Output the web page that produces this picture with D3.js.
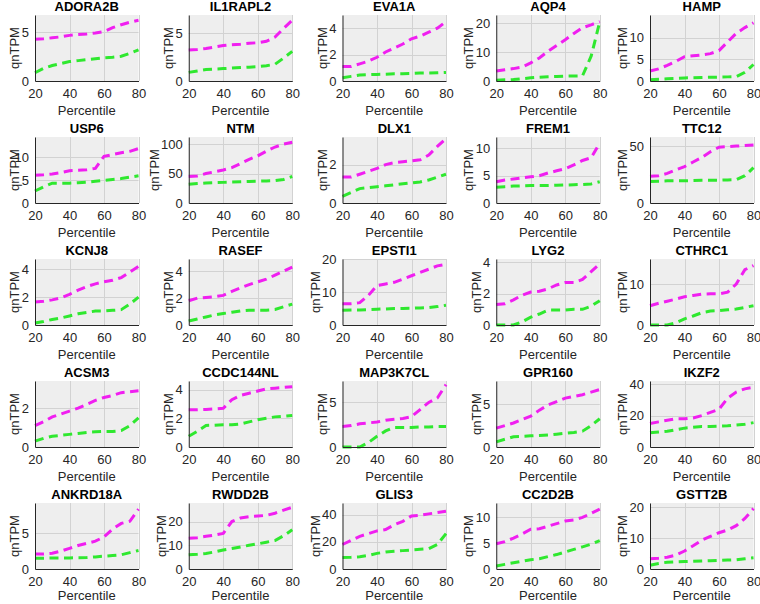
<!DOCTYPE html>
<html>
<head>
<meta charset="utf-8">
<script src="https://cdn.jsdelivr.net/npm/d3@7"></script>
<style>
  html, body { margin: 0; padding: 0; background: #ffffff; }
  svg { display: block; }
  text { font-family: "Liberation Sans", Arial, Helvetica, sans-serif; }
</style>
</head>
<body>
<svg id="chart" width="760" height="604"></svg>
<script>
const percentiles = [20, 25, 30, 35, 40, 45, 50, 55, 60, 65, 70, 75, 80];
const xTicks = [20, 40, 60, 80];

const genes = ["ADORA2B", "IL1RAPL2", "EVA1A", "AQP4", "HAMP",
  "USP6", "NTM", "DLX1", "FREM1", "TTC12",
  "KCNJ8", "RASEF", "EPSTI1", "LYG2", "CTHRC1",
  "ACSM3", "CCDC144NL", "MAP3K7CL", "GPR160", "IKZF2",
  "ANKRD18A", "RWDD2B", "GLIS3", "CC2D2B", "GSTT2B"];

const yMax = [6.8, 6.9, 5.0, 22.9, 15.2,
  14.3, 112, 3.44, 12.1, 58,
  4.73, 4.9, 20.1, 4.2, 16.1,
  3.4, 4.6, 7.4, 7.7, 42,
  9.26, 27.8, 48.5, 12.8, 21.3];

const yTicks = [[0, 5], [0, 5], [0, 2, 4], [0, 10, 20], [0, 5, 10],
  [0, 5, 10], [0, 50, 100], [0, 2], [0, 5, 10], [0, 50],
  [0, 2, 4], [0, 2, 4], [0, 10, 20], [0, 2, 4], [0, 10],
  [0, 2], [0, 2, 4], [0, 5], [0, 5], [0, 20, 40],
  [0, 5], [0, 10, 20], [0, 20, 40], [0, 5, 10], [0, 10, 20]];

const magentaValues = [
  [4.3, 4.35, 4.45, 4.55, 4.7, 4.8, 4.85, 4.95, 5.1, 5.5, 5.8, 6.05, 6.25],
  [3.25, 3.3, 3.4, 3.55, 3.7, 3.8, 3.85, 3.95, 4.0, 4.15, 4.6, 5.5, 6.35],
  [1.1, 1.1, 1.3, 1.5, 1.8, 2.2, 2.5, 2.8, 3.2, 3.4, 3.7, 4.0, 4.5],
  [3.5, 3.9, 4.3, 4.8, 6.3, 8.0, 10.3, 12.3, 14.3, 16.5, 18.5, 19.5, 20.6],
  [2.3, 2.8, 3.6, 4.5, 5.6, 5.8, 6.0, 6.3, 7.0, 9.0, 11.0, 12.3, 13.4],
  [6.0, 6.1, 6.3, 6.6, 7.0, 7.1, 7.2, 7.5, 10.1, 10.5, 10.9, 11.2, 11.8],
  [45, 46, 50, 53, 56, 60, 67, 74, 80, 88, 95, 100, 103],
  [1.35, 1.35, 1.5, 1.65, 1.8, 2.0, 2.1, 2.15, 2.2, 2.25, 2.5, 2.95, 3.35],
  [3.9, 4.2, 4.4, 4.6, 4.8, 5.0, 5.5, 5.9, 6.3, 7.0, 7.8, 8.3, 11.0],
  [23.5, 24, 26, 29, 32, 36, 40, 45, 49, 49.5, 50, 50.5, 51],
  [1.65, 1.7, 1.8, 1.95, 2.2, 2.5, 2.75, 2.95, 3.1, 3.2, 3.4, 3.8, 4.2],
  [1.8, 2.0, 2.05, 2.1, 2.2, 2.5, 2.75, 3.0, 3.2, 3.4, 3.7, 4.0, 4.3],
  [6.5, 6.5, 6.8, 9, 12, 12.5, 13, 14, 15, 16, 17, 18, 18.5],
  [1.3, 1.35, 1.6, 1.9, 2.1, 2.15, 2.3, 2.55, 2.7, 2.7, 2.9, 3.4, 3.9],
  [4.7, 5.3, 5.8, 6.3, 6.9, 7.2, 7.5, 7.6, 7.6, 8.0, 10, 13.5, 14.5],
  [1.1, 1.3, 1.55, 1.7, 1.85, 2.0, 2.2, 2.4, 2.55, 2.65, 2.8, 2.85, 2.9],
  [2.6, 2.6, 2.62, 2.65, 2.7, 3.3, 3.6, 3.75, 3.9, 4.05, 4.1, 4.15, 4.2],
  [2.3, 2.4, 2.6, 2.7, 2.8, 3.0, 3.1, 3.2, 3.4, 4.2, 5.0, 5.5, 7.0],
  [2.2, 2.5, 2.8, 3.2, 3.6, 4.3, 4.9, 5.3, 5.7, 5.9, 6.1, 6.4, 6.7],
  [15, 16, 17, 18, 18, 18.5, 20, 22, 24, 31, 35, 37, 38],
  [2.1, 2.1, 2.2, 2.5, 2.9, 3.3, 3.6, 3.9, 4.5, 5.6, 6.4, 6.7, 8.4],
  [13, 13.2, 13.8, 14.3, 15, 20, 21.5, 22, 22.3, 22.6, 23.5, 24.8, 26],
  [18, 21, 24, 26, 28, 29, 32.5, 35, 39, 39.5, 40.5, 41.5, 42.5],
  [4.9, 5.3, 6.0, 6.8, 7.7, 7.8, 8.3, 8.8, 9.3, 9.5, 10.0, 10.8, 11.6],
  [3.3, 3.5, 3.8, 4.5, 5.8, 7.5, 9.3, 10.5, 11.7, 12.6, 14, 16.3, 19.5]
];

const greenValues = [
  [0.85, 1.3, 1.6, 1.8, 2.0, 2.1, 2.2, 2.3, 2.4, 2.45, 2.55, 2.85, 3.2],
  [0.9, 1.05, 1.2, 1.25, 1.3, 1.35, 1.4, 1.45, 1.5, 1.6, 1.75, 2.4, 3.1],
  [0.25, 0.35, 0.45, 0.48, 0.5, 0.52, 0.55, 0.55, 0.57, 0.6, 0.6, 0.62, 0.65],
  [0.3, 0.4, 0.5, 0.8, 1.1, 1.3, 1.5, 1.6, 1.7, 1.75, 1.8, 8.6, 20.5],
  [0.3, 0.4, 0.5, 0.6, 0.7, 0.75, 0.8, 0.85, 0.9, 0.95, 1.0, 2.0, 3.8],
  [2.6, 3.5, 4.3, 4.3, 4.3, 4.4, 4.5, 4.7, 4.9, 5.1, 5.3, 5.6, 5.9],
  [32, 33, 34, 34.5, 35, 35.5, 36, 36.5, 37, 37.5, 38, 40, 45],
  [0.35, 0.55, 0.75, 0.8, 0.85, 0.9, 0.95, 1.0, 1.05, 1.1, 1.2, 1.35, 1.5],
  [2.9, 3.0, 3.1, 3.15, 3.2, 3.2, 3.2, 3.25, 3.3, 3.35, 3.4, 3.5, 3.9],
  [19, 19.2, 19.5, 19.5, 19.5, 19.8, 20, 20, 20, 20.3, 20.5, 24, 31],
  [0.15, 0.25, 0.4, 0.5, 0.65, 0.8, 0.9, 1.0, 1.0, 1.05, 1.1, 1.5, 2.0],
  [0.3, 0.45, 0.6, 0.75, 0.85, 0.95, 1.05, 1.1, 1.1, 1.1, 1.15, 1.35, 1.55],
  [4.5, 4.55, 4.6, 4.7, 4.8, 4.9, 5.0, 5.05, 5.1, 5.2, 5.3, 5.6, 6.0],
  [0, 0, 0, 0.2, 0.5, 0.7, 0.95, 0.95, 0.95, 1.0, 1.0, 1.2, 1.55],
  [0, 0, 0, 0.5, 1.5, 2.2, 3.0, 3.4, 3.5, 3.7, 3.9, 4.3, 4.7],
  [0.3, 0.45, 0.55, 0.6, 0.65, 0.7, 0.75, 0.78, 0.8, 0.8, 0.85, 1.1, 1.5],
  [0.75, 1.1, 1.5, 1.52, 1.55, 1.55, 1.6, 1.75, 1.9, 2.0, 2.1, 2.15, 2.2],
  [0, 0, 0, 0.5, 1.2, 1.8, 2.2, 2.2, 2.2, 2.25, 2.25, 2.3, 2.3],
  [0.6, 0.9, 1.2, 1.25, 1.3, 1.35, 1.4, 1.5, 1.6, 1.7, 1.85, 2.5, 3.3],
  [9, 9.5, 10, 11, 12, 12.5, 13, 13, 13.2, 13.5, 14, 14.5, 15.5],
  [1.5, 1.52, 1.55, 1.55, 1.55, 1.58, 1.6, 1.7, 1.8, 1.9, 2.0, 2.3, 2.6],
  [6, 6.2, 6.5, 7.2, 8, 8.6, 9.3, 10, 10.6, 11.3, 12, 14, 16.5],
  [8.5, 8.6, 9, 10, 11.5, 12.5, 13, 13.5, 14, 14.5, 15, 18, 26],
  [0.6, 0.9, 1.2, 1.5, 1.8, 2.0, 2.4, 2.8, 3.3, 3.8, 4.3, 4.8, 5.5],
  [1.2, 1.8, 2.2, 2.3, 2.4, 2.5, 2.6, 2.7, 2.8, 2.9, 3.0, 3.3, 3.6]
];

const xLabel = "Percentile";
const yLabel = "qnTPM";

// layout
const nCols = 5;
const left0 = 35, colStep = 153.75, pw = 103.5;
const top0 = 15, rowStep = 122, ph = 66;
const magentaColor = "#f01ff0";
const greenColor = "#2fe82f";
const axisColor = "#262626";
const tickFmt = d3.format("~g");

const svg = d3.select("#chart");

genes.forEach((gene, i) => {
  const col = i % nCols, row = Math.floor(i / nCols);
  const L = left0 + col * colStep;
  const T = top0 + row * rowStep;

  const x = d3.scaleLinear().domain([20, 80]).range([L, L + pw]);
  const y = d3.scaleLinear().domain([0, yMax[i]]).range([T + ph, T]);

  const g = svg.append("g");

  // background
  g.append("rect")
    .attr("x", L).attr("y", T).attr("width", pw).attr("height", ph)
    .attr("fill", "#eeeeee");

  // grid
  g.append("g").selectAll("line").data(xTicks.slice(1)).join("line")
    .attr("x1", d => Math.round(x(d)) + 0.5).attr("x2", d => Math.round(x(d)) + 0.5)
    .attr("y1", T).attr("y2", T + ph)
    .attr("stroke", "#d2d2d2").attr("stroke-width", 1);
  g.append("g").selectAll("line").data(yTicks[i].slice(1)).join("line")
    .attr("x1", L).attr("x2", L + pw)
    .attr("y1", d => Math.round(y(d)) + 0.5).attr("y2", d => Math.round(y(d)) + 0.5)
    .attr("stroke", "#d2d2d2").attr("stroke-width", 1);

  // data lines
  const line = d3.line().x((d, k) => x(percentiles[k])).y(d => y(d));
  [[magentaValues[i], magentaColor], [greenValues[i], greenColor]].forEach(([vals, c]) => {
    g.append("path")
      .attr("d", line(vals))
      .attr("fill", "none")
      .attr("stroke", c)
      .attr("stroke-width", 3)
      .attr("stroke-dasharray", "9,5.5");
  });

  // axes
  const xAxis = g.append("g")
    .attr("transform", `translate(0,${T + ph})`)
    .call(d3.axisBottom(x).tickValues(xTicks).tickFormat(tickFmt).tickSize(0).tickPadding(8));
  const yAxis = g.append("g")
    .attr("transform", `translate(${L},0)`)
    .call(d3.axisLeft(y).tickValues(yTicks[i]).tickFormat(tickFmt).tickSize(0).tickPadding(6));
  [xAxis, yAxis].forEach(a => {
    a.select(".domain").attr("stroke", axisColor).attr("stroke-width", 1);
    a.selectAll("text").attr("fill", axisColor).style("font-size", "13px")
      .style("font-family", '"Liberation Sans", Arial, Helvetica, sans-serif');
  });

  // title
  g.append("text")
    .attr("x", L + pw / 2).attr("y", T - 4.5)
    .attr("text-anchor", "middle")
    .style("font-size", "13px").style("font-weight", "bold")
    .attr("fill", "#000")
    .text(gene);

  // x label
  g.append("text")
    .attr("x", L + pw / 2).attr("y", Math.min(T + ph + 33.5, 600))
    .attr("text-anchor", "middle")
    .style("font-size", "13px")
    .attr("fill", axisColor)
    .text(xLabel);

  // y label, placed left of widest tick label
  let minX = L;
  yAxis.selectAll("text").each(function () {
    const b = this.getBBox();
    minX = Math.min(minX, L + b.x);
  });
  const yl = Math.max(minX - 2.5, 18.5);
  g.append("text")
    .attr("transform", `translate(${yl},${T + ph / 2}) rotate(-90)`)
    .attr("text-anchor", "middle")
    .style("font-size", "13px")
    .attr("fill", axisColor)
    .text(yLabel);
});
</script>
</body>
</html>
